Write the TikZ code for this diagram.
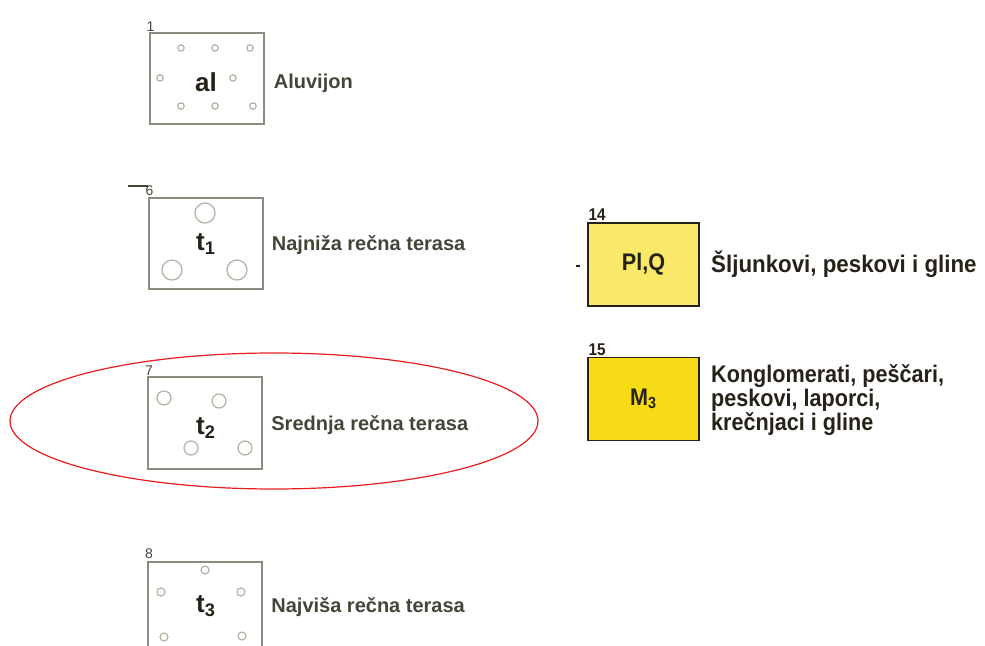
\documentclass[tikz,border=0pt]{standalone}
\usepackage{fontspec}
\setmainfont{Liberation Sans}
\newfontfamily\legfont[FakeStretch=0.9]{Liberation Sans}
\usetikzlibrary{positioning}

\definecolor{boxgray}{RGB}{140,140,126}
\definecolor{pebblegray}{RGB}{178,178,162}
\definecolor{inkgray}{RGB}{70,68,56}
\definecolor{inkdark}{RGB}{38,34,24}
\definecolor{paleyellow}{RGB}{250,232,104}
\definecolor{deepyellow}{RGB}{247,219,22}
\definecolor{markred}{RGB}{232,28,28}

\tikzset{
  oldbox/.style={draw=boxgray, line width=1pt, minimum width=57pt, minimum height=45.5pt, inner sep=0pt},
  colbox/.style={draw=inkdark, line width=0.8pt, minimum width=55.5pt, minimum height=41.5pt, inner sep=0pt,
                 font=\legfont\bfseries\fontsize{12}{12}\selectfont, text=inkdark},
  pebble/.style={draw=pebblegray, line width=0.6pt},
  oldtext/.style={text=inkgray, font=\bfseries\fontsize{10}{11}\selectfont, inner sep=0pt},
  newtext/.style={text=inkdark, font=\legfont\bfseries\fontsize{12}{12}\selectfont, inner sep=0pt, align=left},
  oldnum/.style={text=inkgray, font=\fontsize{7}{7}\selectfont, inner sep=0.5pt},
  newnum/.style={text=inkdark, font=\legfont\bfseries\fontsize{8.5}{8.5}\selectfont, inner sep=0.5pt}
}

\begin{document}
\begin{tikzpicture}[x=0.5pt, y=-0.5pt]
  \useasboundingbox (0,0) rectangle (985,646);

  % Old legend boxes (left column)
  \node[oldbox] (al) at (206.5,79) {};
  \node[oldbox] (tone) at (205.5,243.5) {};
  \node[oldbox] (ttwo) at (205,423) {};
  \node[oldbox] (tthree) at (205,607) {};

  % Pebbles
  \foreach \px/\py in {181/48, 215/48, 250/48, 160/78, 233/78, 181/106, 215/106, 253/106}
      \draw[pebble] (\px,\py) circle (1.6pt);
  \foreach \px/\py in {205/213, 172/270, 237/270}
      \draw[pebble] (\px,\py) circle (5pt);
  \foreach \px/\py in {164/398, 219/401, 191/448, 245/448}
      \draw[pebble] (\px,\py) circle (3.5pt);
  \foreach \px/\py in {205/570, 161/592, 241/592, 164/637, 242/636}
      \draw[pebble] (\px,\py) circle (2pt);

  % Symbols in boxes
  \node[text=inkdark, font=\bfseries\fontsize{13}{13}\selectfont] at (206,82) {al};
  \node[text=inkdark, font=\bfseries\fontsize{13}{13}\selectfont] at (206,244) {t\textsubscript{1}};
  \node[text=inkdark, font=\bfseries\fontsize{13}{13}\selectfont] at (206,428) {t\textsubscript{2}};
  \node[text=inkdark, font=\bfseries\fontsize{13}{13}\selectfont] at (206,606) {t\textsubscript{3}};

  % Numbers
  \node[oldnum, above=0pt of al.north west, xshift=1pt] (nal) {1};
  \node[oldnum, above=0pt of tone.north west, xshift=1pt] (ntone) {6};
  \node[oldnum, above=0pt of ttwo.north west, xshift=1pt] (nttwo) {7};
  \node[oldnum, above=0pt of tthree.north west, xshift=1pt] (ntthree) {8};
  \coordinate (dashsix) at (128,186);
  \draw[inkgray, line width=0.7pt] (dashsix) -- (dashsix -| tone.west);

  % Descriptions
  \node[oldtext, right=4.5pt of al, yshift=-2pt, anchor=west] {Aluvijon};
  \node[oldtext, right=4pt of tone, yshift=-1pt, anchor=west] {Najniža rečna terasa};
  \node[oldtext, right=4pt of ttwo, yshift=-1pt, anchor=west] {Srednja rečna terasa};
  \node[oldtext, right=4pt of tthree, anchor=west] {Najviša rečna terasa};

  % Marked entry
  \draw[markred, line width=0.6pt] (274,421) ellipse [x radius=132pt, y radius=34pt];

  % New legend boxes (right column)
  \node[colbox, fill=paleyellow] (plq) at (643.5,264.5) {Pl,Q};
  \node[colbox, fill=deepyellow] (mthree) at (643.5,399) {M\textsubscript{3}};
  \node[newnum, above=0pt of plq.north west, anchor=south west] {14};
  \node[newnum, above=0pt of mthree.north west, anchor=south west] {15};
  \coordinate (dashl) at (576,266);
  \coordinate (dashr) at (580,266);
  \draw[inkdark, line width=0.7pt] (dashl) -- (dashr);

  \node[newtext, right=5.5pt of plq, anchor=west] {\addfontfeature{FakeStretch=0.93}Šljunkovi, peskovi i gline};
  \node[newtext, right=5.5pt of mthree, anchor=west, yshift=-0.5pt] {Konglomerati, peščari,\\peskovi, laporci,\\krečnjaci i gline};
\end{tikzpicture}
\end{document}
